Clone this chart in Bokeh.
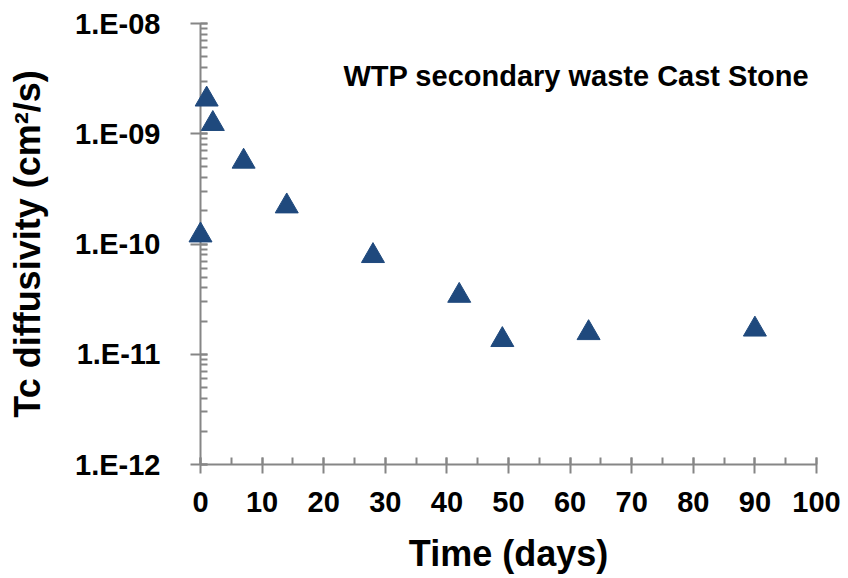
from bokeh.plotting import figure
from bokeh.models import Range1d, Label, LogTicker, SingleIntervalTicker, CustomJSTickFormatter
from bokeh.embed import file_html
from bokeh.resources import INLINE

# Data
days = [0, 1, 2, 7, 14, 28, 42, 49, 63, 90]
tc_diffusivity = [1.2e-10, 2.05e-9, 1.23e-9, 5.6e-10, 2.2e-10, 7.8e-11, 3.4e-11, 1.35e-11, 1.56e-11, 1.68e-11]

FONT = "Liberation Sans"
AXIS_GREY = "#868686"

p = figure(
    width=848, height=578,
    x_range=Range1d(0, 100),
    y_range=Range1d(1e-12, 1e-8),
    y_axis_type="log",
    output_backend="svg",
    toolbar_location=None,
    min_border_left=200, min_border_right=32,
    min_border_top=23, min_border_bottom=114,
)
p.outline_line_color = None
p.xgrid.grid_line_color = None
p.ygrid.grid_line_color = None
p.background_fill_color = "white"
p.border_fill_color = "white"

# overlay level so the day-0 marker is not clipped at the y axis
p.scatter(days, tc_diffusivity, marker="triangle", size=23,
          fill_color="#1F497D", line_color="#1F497D", level="overlay")

# x axis
p.xaxis.ticker = SingleIntervalTicker(interval=10, num_minor_ticks=2)
p.xaxis.axis_label = "Time (days)"
# y axis
p.yaxis.ticker = LogTicker(num_minor_ticks=10)
p.yaxis.formatter = CustomJSTickFormatter(code="""
    const e = Math.round(Math.log10(tick));
    const a = Math.abs(e);
    return "1.E" + (e < 0 ? "-" : "+") + (a < 10 ? "0" : "") + a;
""")
p.yaxis.axis_label = "Tc diffusivity (cm\u00b2/s)"

for ax in (p.xaxis, p.yaxis):
    ax.axis_line_color = AXIS_GREY
    ax.axis_line_width = 2
    ax.major_tick_line_color = AXIS_GREY
    ax.major_tick_line_width = 2
    ax.minor_tick_line_color = AXIS_GREY
    ax.minor_tick_line_width = 2
    ax.minor_tick_in = 7
    ax.minor_tick_out = 0
    ax.major_tick_in = 7
    ax.major_label_text_font = FONT
    ax.major_label_text_font_style = "bold"
    ax.major_label_text_font_size = "29px"
    ax.major_label_text_color = "black"
    ax.axis_label_text_font = FONT
    ax.axis_label_text_font_style = "bold"
    ax.axis_label_text_font_size = "36px"
    ax.axis_label_text_color = "black"

p.xaxis.major_tick_out = 9
p.xaxis.major_label_standoff = 18
p.xaxis.axis_label_standoff = 18
p.yaxis.major_tick_out = 10
p.yaxis.major_label_standoff = 30
p.yaxis.axis_label_standoff = 24

title = Label(x=23.2, y=3.37e-9, text="WTP secondary waste Cast Stone",
              text_font=FONT, text_font_style="bold", text_font_size="29px",
              text_color="black", text_baseline="middle")
p.add_layout(title)

open("out.html", "w").write(file_html(p, INLINE))
